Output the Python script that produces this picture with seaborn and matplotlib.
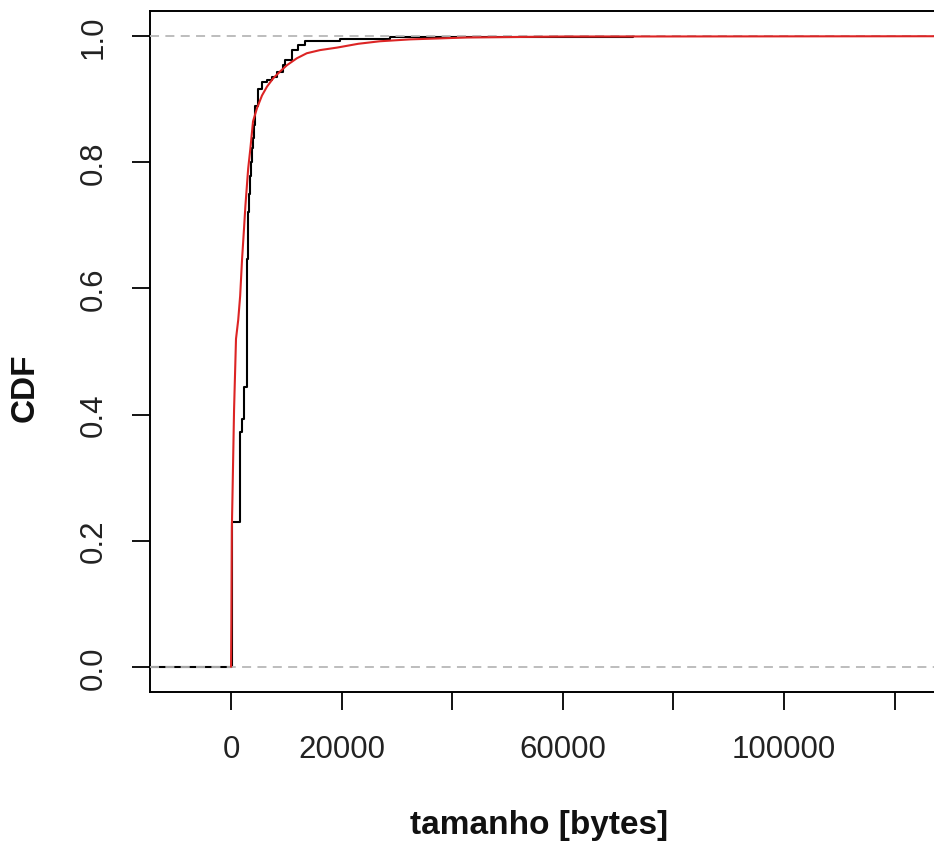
import numpy as np
import pandas as pd
import seaborn as sns
import matplotlib
matplotlib.use("Agg")
import matplotlib.pyplot as plt

# Empirical CDF (black): knot positions [bytes] and cumulative proportion after each knot
ecdf_x = [250, 1620, 1640, 1660, 1700, 1990, 2350, 2820, 2850, 2870, 2890, 2910,
          2930, 2950, 3000, 3040, 3080, 3200, 3350, 3600, 3800, 4000, 4100, 4250,
          4350, 4900, 5600, 6500, 7400, 8300, 9400, 9800, 11000, 12100, 13400,
          19700, 28700, 42700, 72700]
ecdf_p = [0.229, 0.26, 0.30, 0.34, 0.372, 0.393, 0.444, 0.47, 0.50, 0.53, 0.56, 0.59,
          0.62, 0.647, 0.67, 0.70, 0.722, 0.75, 0.779, 0.80, 0.822, 0.838, 0.86, 0.874,
          0.89, 0.917, 0.928, 0.93, 0.936, 0.944, 0.954, 0.962, 0.978, 0.986, 0.992,
          0.995, 0.998, 0.999, 1.0]

# Fitted CDF (red)
fit_x = [0, 60, 150, 250, 550, 900, 1300, 1650, 2000, 2350, 2600, 3100, 3500, 3980,
         4700, 5600, 6500, 7600, 8860, 10100, 11900, 13700, 16100, 19200, 23000,
         26900, 32400, 42700, 60000, 130500]
fit_p = [0, 0.07, 0.22, 0.265, 0.408, 0.52, 0.55, 0.588, 0.647, 0.695, 0.731, 0.79,
         0.822, 0.865, 0.886, 0.906, 0.92, 0.933, 0.944, 0.954, 0.965, 0.973, 0.978,
         0.982, 0.988, 0.992, 0.995, 0.998, 0.9995, 1.0]

x_ticks = [0, 20000, 40000, 60000, 80000, 100000, 120000]
x_tick_labels = ["0", "20000", "", "60000", "", "100000", ""]
y_ticks = [0.0, 0.2, 0.4, 0.6, 0.8, 1.0]
y_tick_labels = ["0.0", "0.2", "0.4", "0.6", "0.8", "1.0"]
ref_lines = [0.0, 1.0]

sns.set_theme(style="white")
plt.rcParams["font.family"] = ["Liberation Sans", "DejaVu Sans"]

W, H = 934, 845
fig = plt.figure(figsize=(W / 100, H / 100), dpi=100)
left_px, right_px, top_px, bot_px = 150, 953, 12, 693
ax = fig.add_axes([left_px / W, (H - bot_px) / H, (right_px - left_px) / W,
                   (bot_px - top_px) / H])

xlim = (-14650, 130540)

jumps = np.diff(np.r_[0.0, ecdf_p])
df_e = pd.DataFrame({"x": ecdf_x, "w": jumps})
sns.ecdfplot(data=df_e, x="x", weights="w", ax=ax, color="black", lw=1.5, zorder=2)
# left tail of the step function (value 0 before the first knot)
ax.hlines(0.0, xlim[0], ecdf_x[0], color="black", lw=1.5, zorder=2)

for yv in ref_lines:
    ax.axhline(yv, color="#b8b8b8", lw=1.3, ls=(0, (5, 3.5)), zorder=3)

df_f = pd.DataFrame({"x": fit_x, "p": fit_p})
sns.lineplot(data=df_f, x="x", y="p", ax=ax, color="#dc2424", lw=1.5,
             estimator=None, sort=False, zorder=4)

ax.set_xlim(*xlim)
ax.set_ylim(-0.04, 1.04)
ax.set_xticks(x_ticks)
ax.set_xticklabels(x_tick_labels)
ax.set_yticks(y_ticks)
ax.set_yticklabels(y_tick_labels, rotation=90, va="center")
ax.tick_params(axis="both", direction="out", length=13, width=1.3, color="black",
               labelsize=22.5, labelcolor="#222222", bottom=True, left=True)
ax.tick_params(axis="x", pad=17)
ax.tick_params(axis="y", pad=17)
for s in ax.spines.values():
    s.set_color("black")
    s.set_linewidth(1.4)
ax.grid(False)
ax.set_xlabel("")
ax.set_ylabel("")

fig.text(539 / W, 1 - 826 / H, "tamanho [bytes]", ha="center", va="center",
         fontsize=24, fontweight="bold", color="#111111")
fig.text(25 / W, 1 - 388 / H, "CDF", ha="center", va="center", rotation=90,
         fontsize=24, fontweight="bold", color="#111111")

fig.savefig("out.png", dpi=100, facecolor="white")
